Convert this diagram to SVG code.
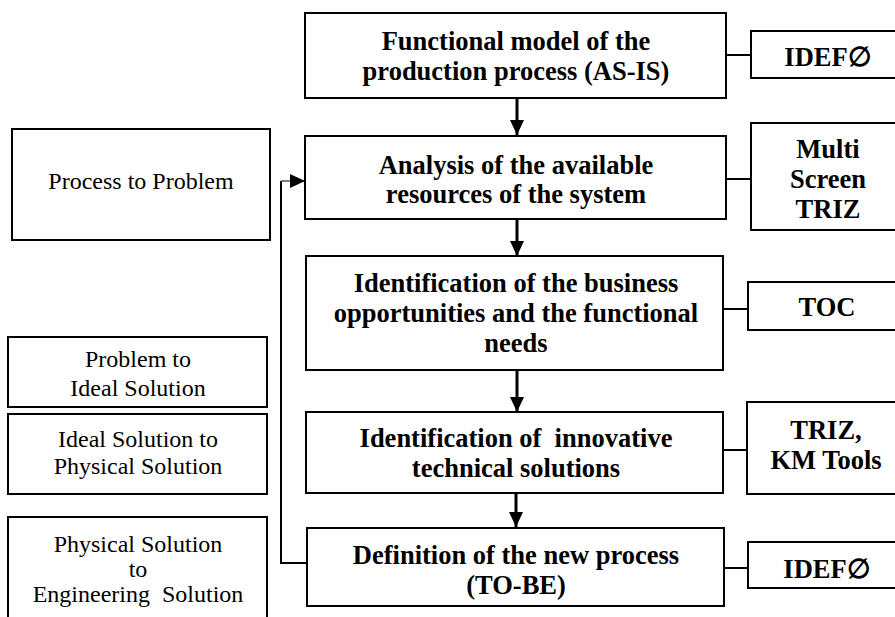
<svg xmlns="http://www.w3.org/2000/svg" width="895" height="617" viewBox="0 0 895 617">
<style>
.box{fill:#fff;stroke:#000;stroke-width:2}
.main{font-family:"Liberation Serif","Times New Roman",serif;font-weight:700;font-size:26.5px;fill:#000;text-anchor:middle}
.side{font-family:"Liberation Serif","Times New Roman",serif;font-size:24px;fill:#000;text-anchor:middle}
.arr{stroke:#000;stroke-width:3;fill:none}
.link{stroke:#000;stroke-width:2;fill:none}
</style>
<defs>
<marker id="ah" markerUnits="userSpaceOnUse" markerWidth="15" markerHeight="14" refX="15" refY="7" orient="auto">
<path d="M0,0 L15,7 L0,14 z" fill="#000"/>
</marker>
</defs>
<rect width="895" height="617" fill="#fff"/>
<g id="connectors">
<line class="arr" x1="517" y1="98" x2="517" y2="135" marker-end="url(#ah)"/>
<line class="arr" x1="517" y1="219" x2="517" y2="256" marker-end="url(#ah)"/>
<line class="arr" x1="517" y1="370" x2="517" y2="412" marker-end="url(#ah)"/>
<line class="arr" x1="516" y1="493" x2="516" y2="527" marker-end="url(#ah)"/>
<path class="link" d="M307,563 H281 V181"/>
<line x1="281" y1="181" x2="305" y2="181" stroke="#555" stroke-width="1.5" marker-end="url(#ah)"/>
<line class="link" x1="726" y1="55" x2="751" y2="55"/>
<line class="link" x1="726" y1="179" x2="751" y2="179"/>
<line class="link" x1="723" y1="309" x2="748" y2="309"/>
<line class="link" x1="723" y1="450" x2="747" y2="450"/>
<line class="link" x1="724" y1="568" x2="748" y2="568"/>
</g>
<g id="n1">
<rect class="box" x="305" y="13" width="421" height="85"/>
<text class="main" x="516" y="50">Functional model of the</text>
<text class="main" x="516" y="80">production process (AS-IS)</text>
</g>
<g id="n2">
<rect class="box" x="305" y="136" width="421" height="83"/>
<text class="main" x="516" y="174">Analysis of the available</text>
<text class="main" x="516" y="203">resources of the system</text>
</g>
<g id="n3">
<rect class="box" x="306" y="256" width="417" height="114"/>
<text class="main" x="516" y="292">Identification of the business</text>
<text class="main" x="516" y="322">opportunities and the functional</text>
<text class="main" x="516" y="352">needs</text>
</g>
<g id="n4">
<rect class="box" x="306" y="412" width="417" height="81"/>
<text class="main" x="516" y="447" xml:space="preserve">Identification of  innovative</text>
<text class="main" x="516" y="477">technical solutions</text>
</g>
<g id="n5">
<rect class="box" x="307" y="528" width="417" height="78"/>
<text class="main" x="516" y="564">Definition of the new process</text>
<text class="main" x="516" y="594">(TO-BE)</text>
</g>
<g id="r1">
<rect class="box" x="751" y="31" width="156" height="47"/>
<text class="main" x="828" y="66">IDEF∅</text>
</g>
<g id="r2">
<rect class="box" x="751" y="123" width="156" height="107"/>
<text class="main" x="828" y="158">Multi</text>
<text class="main" x="828" y="188">Screen</text>
<text class="main" x="828" y="218">TRIZ</text>
</g>
<g id="r3">
<rect class="box" x="748" y="282" width="158" height="48"/>
<text class="main" x="827" y="316">TOC</text>
</g>
<g id="r4">
<rect class="box" x="747" y="402" width="159" height="92"/>
<text class="main" x="826" y="439">TRIZ,</text>
<text class="main" x="826" y="469">KM Tools</text>
</g>
<g id="r5">
<rect class="box" x="748" y="542" width="158" height="46"/>
<text class="main" x="827" y="578">IDEF∅</text>
</g>
<g id="l1">
<rect class="box" x="12" y="129" width="258" height="111"/>
<text class="side" x="141" y="189">Process to Problem</text>
</g>
<g id="l2">
<rect class="box" x="8" y="337" width="259" height="70"/>
<text class="side" x="138" y="367">Problem to</text>
<text class="side" x="138" y="396">Ideal Solution</text>
</g>
<g id="l3">
<rect class="box" x="8" y="414" width="259" height="80"/>
<text class="side" x="138" y="447">Ideal Solution to</text>
<text class="side" x="138" y="474">Physical Solution</text>
</g>
<g id="l4">
<rect class="box" x="8" y="517" width="259" height="110"/>
<text class="side" x="138" y="552">Physical Solution</text>
<text class="side" x="138" y="577">to</text>
<text class="side" x="138" y="602" xml:space="preserve">Engineering  Solution</text>
</g>
</svg>
